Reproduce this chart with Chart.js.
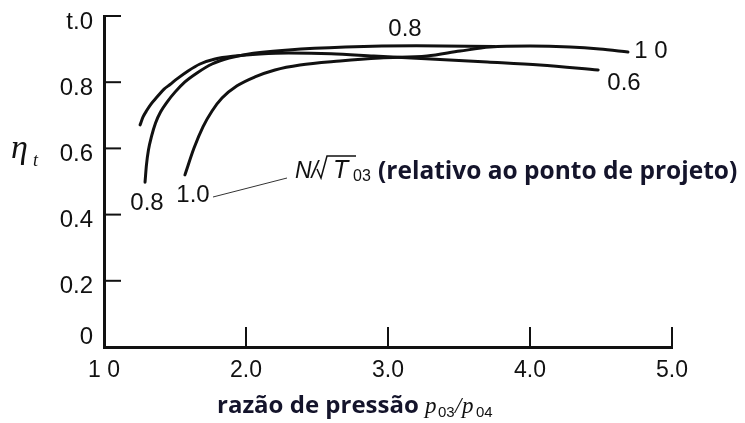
<!DOCTYPE html>
<html>
<head>
<meta charset="utf-8">
<script src="https://cdn.jsdelivr.net/npm/chart.js@4.4.1/dist/chart.umd.min.js"></script>
<style>
  html, body { margin: 0; padding: 0; background: #fff; }
</style>
</head>
<body>
<canvas id="eff" width="745" height="423"></canvas>
<script>
// turbine efficiency vs pressure ratio, one curve per N/sqrt(T03)
const ratio06 = [1.254, 1.275, 1.303, 1.331, 1.373, 1.423, 1.465, 1.514, 1.592, 1.676, 1.782, 1.923, 2.099, 2.3, 2.6, 2.9, 3.3, 3.7, 4.07, 4.48];
const eff06   = [0.671, 0.695, 0.716, 0.734, 0.755, 0.779, 0.793, 0.810, 0.834, 0.855, 0.870, 0.879, 0.885, 0.888, 0.886, 0.879, 0.870, 0.861, 0.852, 0.837];

const ratio08 = [1.289, 1.299, 1.313, 1.335, 1.363, 1.398, 1.444, 1.50, 1.57, 1.655, 1.761, 1.88, 2.0, 2.3, 2.7, 3.2, 3.75];
const eff08   = [0.498, 0.550, 0.595, 0.637, 0.677, 0.710, 0.740, 0.770, 0.801, 0.828, 0.855, 0.873, 0.884, 0.897, 0.906, 0.910, 0.908];

const ratio10 = [1.57, 1.634, 1.697, 1.761, 1.831, 1.937, 2.063, 2.204, 2.38, 2.662, 2.944, 3.275, 3.507, 3.718, 4.0, 4.282, 4.49, 4.69];
const eff10   = [0.520, 0.601, 0.665, 0.713, 0.752, 0.789, 0.816, 0.837, 0.852, 0.864, 0.873, 0.879, 0.894, 0.906, 0.909, 0.906, 0.900, 0.891];

const xTickLabels = ['1 0', '2.0', '3.0', '4.0', '5.0'];
const yTickLabels = ['0', '0.2', '0.4', '0.6', '0.8', 't.0'];

const ink = '#111';
const tickFont = '"Liberation Sans", Arial, sans-serif';
const toPoints = (xs, ys) => xs.map((v, i) => ({ x: v, y: ys[i] }));

function curve(label, xs, ys) {
  return {
    label: label,
    data: toPoints(xs, ys),
    showLine: true,
    borderColor: ink,
    borderWidth: 3,
    pointRadius: 0,
    cubicInterpolationMode: 'monotone',
    borderCapStyle: 'round'
  };
}

function line(ctx, x1, y1, x2, y2) {
  ctx.beginPath();
  ctx.moveTo(x1, y1);
  ctx.lineTo(x2, y2);
  ctx.stroke();
}

// inward tick marks, curve labels, axis titles
const decorations = {
  id: 'decorations',
  afterDraw(chart) {
    const { ctx, scales: { x, y } } = chart;
    ctx.save();
    ctx.strokeStyle = ink;
    ctx.lineWidth = 2;
    y.ticks.forEach(t => {
      if (t.value === 0) return;
      const py = y.getPixelForValue(t.value);
      line(ctx, x.left, py, x.left + 17, py);
    });
    x.ticks.forEach(t => {
      if (t.value === 1) return;
      const px = x.getPixelForValue(t.value);
      line(ctx, px, y.bottom, px, y.bottom - 20);
    });

    // the origin label sits just above the x axis
    ctx.fillStyle = ink;
    ctx.font = '24px ' + tickFont;
    ctx.textAlign = 'right';
    ctx.textBaseline = 'middle';
    ctx.fillText(yTickLabels[0], x.left - 11, y.getPixelForValue(0) - 10);

    // curve labels
    ctx.textAlign = 'center';
    ctx.fillText('0.8', 405, 29);
    ctx.fillText('1 0', 651, 51);
    ctx.fillText('0.6', 624, 83);
    ctx.fillText('0.8', 147, 203);
    ctx.fillText('1.0', 193, 195);

    // leader to the speed parameter note
    ctx.lineWidth = 1;
    ctx.strokeStyle = '#333';
    line(ctx, 213, 197, 287, 178);

    // N/sqrt(T03)
    ctx.textAlign = 'left';
    ctx.textBaseline = 'alphabetic';
    ctx.font = 'italic 23px ' + tickFont;
    ctx.fillText('N/', 295, 178);
    ctx.lineWidth = 1.5;
    ctx.strokeStyle = ink;
    ctx.beginPath();
    ctx.moveTo(317, 169);
    ctx.lineTo(321, 178);
    ctx.lineTo(327, 156);
    ctx.lineTo(356, 156);
    ctx.stroke();
    ctx.font = 'italic 25px ' + tickFont;
    ctx.fillText('T', 333, 178);
    ctx.font = '16px ' + tickFont;
    ctx.fillText('03', 353, 181);

    ctx.fillStyle = '#14142b';
    ctx.font = 'bold 24.5px "Open Sans", sans-serif';
    ctx.fillText('(relativo ao ponto de projeto)', 378, 179);

    // efficiency symbol
    ctx.fillStyle = ink;
    ctx.font = 'italic 34px "Liberation Serif", serif';
    ctx.fillText('\u03b7', 11, 158);
    ctx.font = 'italic 18px "Liberation Serif", serif';
    ctx.fillText('t', 33, 166);

    // x axis title
    ctx.fillStyle = '#14142b';
    ctx.font = 'bold 24px "Open Sans", sans-serif';
    ctx.fillText('razão de pressão', 217, 413);
    ctx.fillStyle = ink;
    ctx.font = 'italic 23px "Liberation Serif", serif';
    ctx.fillText('p', 425, 413);
    ctx.fillText('/', 455, 413);
    ctx.fillText('p', 462, 413);
    ctx.font = '15px ' + tickFont;
    ctx.fillText('03', 438, 417);
    ctx.fillText('04', 476, 417);
    ctx.restore();
  }
};

new Chart(document.getElementById('eff'), {
  type: 'scatter',
  data: {
    datasets: [
      curve('0.6', ratio06, eff06),
      curve('0.8', ratio08, eff08),
      curve('1.0', ratio10, eff10)
    ]
  },
  options: {
    responsive: false,
    animation: false,
    devicePixelRatio: 1,
    layout: { padding: { left: 0, top: 16, right: 73, bottom: 0 } },
    plugins: { legend: { display: false }, tooltip: { enabled: false } },
    scales: {
      x: {
        type: 'linear',
        min: 1, max: 5,
        afterFit: s => { s.height = 76; s.paddingLeft = 0; s.paddingRight = 0; },
        grid: { display: false, drawTicks: false },
        border: { display: true, color: ink, width: 3 },
        ticks: {
          stepSize: 1,
          padding: 10,
          color: ink,
          font: { family: tickFont, size: 23 },
          callback: (v, i) => xTickLabels[i]
        }
      },
      y: {
        type: 'linear',
        min: 0, max: 1,
        afterFit: s => { s.width = 104; s.paddingTop = 0; s.paddingBottom = 0; },
        grid: { display: false, drawTicks: false },
        border: { display: true, color: ink, width: 3 },
        ticks: {
          stepSize: 0.2,
          padding: 11,
          labelOffset: 6,
          color: ink,
          font: { family: tickFont, size: 24 },
          // origin label is drawn by the decorations plugin
          callback: (v, i) => (i === 0 ? '' : yTickLabels[i])
        }
      }
    }
  },
  plugins: [decorations]
});
</script>
</body>
</html>
